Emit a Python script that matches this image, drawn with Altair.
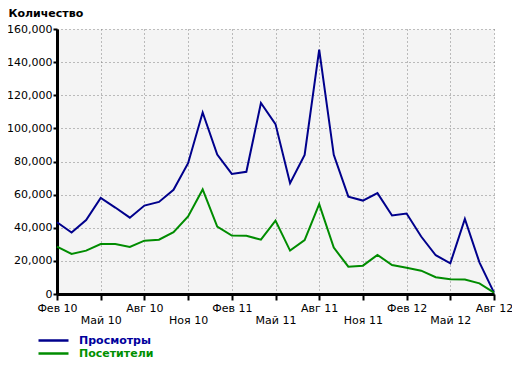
import altair as alt
import pandas as pd

months = ["Фев 10", "Мар 10", "Апр 10", "Май 10", "Июн 10", "Июл 10", "Авг 10", "Сен 10",
          "Окт 10", "Ноя 10", "Дек 10", "Янв 11", "Фев 11", "Мар 11", "Апр 11", "Май 11",
          "Июн 11", "Июл 11", "Авг 11", "Сен 11", "Окт 11", "Ноя 11", "Дек 11", "Янв 12",
          "Фев 12", "Мар 12", "Апр 12", "Май 12", "Июн 12", "Июл 12", "Авг 12"]
views = [43300, 37100, 44700, 58000, 52200, 46100, 53400, 55600, 62900, 79000, 109600,
         84200, 72500, 73800, 115300, 102600, 66900, 84000, 147500, 84000, 58800, 56400,
         60900, 47400, 48600, 34700, 23400, 18500, 45300, 19100, 800]
visitors = [28600, 24200, 26200, 30200, 30200, 28400, 32200, 32800, 37300, 46800, 63100,
            40700, 35300, 35100, 32800, 44300, 26200, 32600, 54200, 28000, 16500, 17100,
            23600, 17500, 15900, 14100, 10100, 8900, 8700, 6400, 800]
series_names = ["Просмотры", "Посетители"]
series_colors = ["#00008c", "#008c00"]
label_colors = ["#00009c", "#009000"]
tick_labels = ["Фев 10", "Май 10", "Авг 10", "Ноя 10", "Фев 11", "Май 11",
               "Авг 11", "Ноя 11", "Фев 12", "Май 12", "Авг 12"]
y_ticks = [0, 20000, 40000, 60000, 80000, 100000, 120000, 140000, 160000]

n = len(months)
df = pd.DataFrame({
    "i": list(range(n)) * 2,
    "month": months * 2,
    "value": views + visitors,
    "series": [series_names[0]] * n + [series_names[1]] * n,
})

label_arr = "[" + ",".join("'" + l + "'" for l in tick_labels) + "]"

FONT = "DejaVu Sans"

chart = alt.Chart(df).mark_line(strokeWidth=2).encode(
    x=alt.X("i:Q",
            scale=alt.Scale(domain=[0, n - 1], nice=False, zero=False),
            axis=alt.Axis(values=list(range(0, n, 3)),
                          labelExpr=f"{label_arr}[round(datum.value/3)]",
                          title=None, tickSize=6, labelOverlap=False,
                          labelBaseline="top", labelAlign="center",
                          labelPadding=alt.ExprRef("round(datum.value/3) % 2 == 1 ? 14 : 2"))),
    y=alt.Y("value:Q",
            scale=alt.Scale(domain=[0, 160000], nice=False),
            axis=alt.Axis(values=y_ticks, format=",d", title="Количество",
                          titleAngle=0, titleAlign="left", titleBaseline="middle",
                          titleX=-49, titleY=-16, titleFont=FONT, titleFontSize=11,
                          titleFontWeight="bold", titleColor="black",
                          tickSize=4, labelPadding=1)),
    color=alt.Color("series:N",
                    scale=alt.Scale(domain=series_names, range=series_colors),
                    sort=series_names,
                    legend=alt.Legend(orient="none", legendX=-11, legendY=304,
                                      title=None, direction="vertical",
                                      symbolType="M-2.5,0L2.5,0", symbolSize=144,
                                      symbolStrokeWidth=2.5, rowPadding=0, padding=0,
                                      labelFont=FONT, labelFontSize=11,
                                      labelFontWeight="bold", labelOffset=18,
                                      labelColor=alt.ExprRef(
                                          f"datum.value == '{series_names[0]}' ? '{label_colors[0]}' : '{label_colors[1]}'"))),
    order=alt.Order("i:Q"),
).properties(
    width=437, height=265,
    autosize=alt.AutoSizeParams(type="none"),
    padding={"left": 49, "top": 21, "right": 18, "bottom": 64},
).configure_view(
    fill="#f4f4f4", stroke="transparent"
).configure_axis(
    domainColor="black", domainWidth=3, tickColor="black", tickWidth=2,
    labelFont=FONT, labelFontSize=11, labelColor="black",
    gridColor="#808080", gridDash=[1, 3], gridWidth=1, gridOpacity=1,
)

chart.save("out.html", embed_options={"renderer": "svg", "actions": False})
